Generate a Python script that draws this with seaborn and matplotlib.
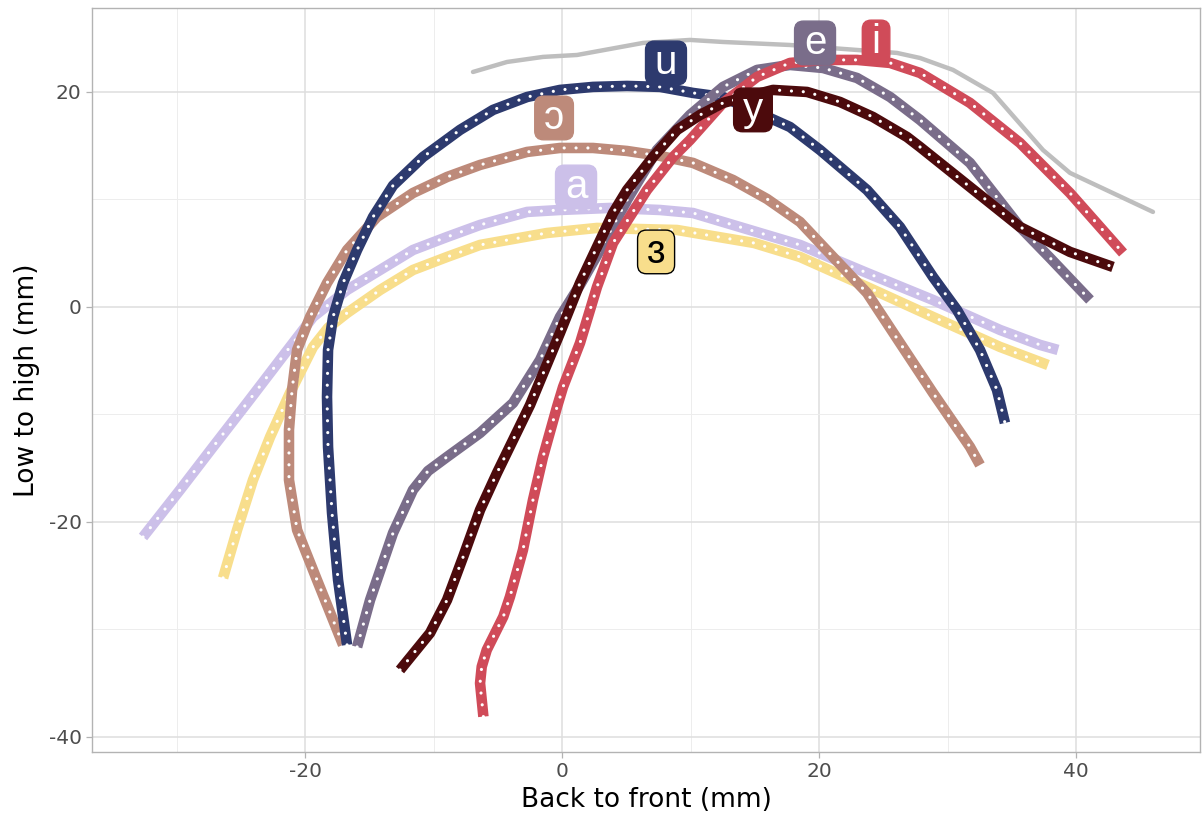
import matplotlib
matplotlib.use("Agg")
import matplotlib.pyplot as plt
from matplotlib.patches import BoxStyle
import numpy as np
import pandas as pd
import seaborn as sns

# ---------------- data (mm) ----------------
palate_x = [-6.93, -4.28, -1.48, 1.17, 6.30, 9.96, 12.53, 17.74, 26.07, 27.86, 30.43, 33.54, 37.43, 39.53, 45.99]
palate_y = [21.86, 22.79, 23.26, 23.44, 24.56, 24.84, 24.65, 24.37, 23.63, 23.16, 22.05, 19.91, 14.60, 12.47, 8.84]

e3_x = [-26.38, -25.29, -24.05, -22.72, -21.17, -19.38, -18.21, -16.73, -14.16, -11.60, -8.95, -6.38, -1.17, 2.72, 8.95, 14.94, 18.52, 23.74, 28.87, 34.09, 37.82]
e3_y = [-25.21, -20.74, -16.09, -12.09, -8.00, -3.72, -1.95, -0.56, 1.58, 3.44, 4.65, 5.77, 6.88, 7.35, 7.16, 5.95, 4.65, 1.86, -0.93, -3.72, -5.40]

a_x = [-32.61, -29.73, -27.16, -24.51, -21.95, -19.38, -16.73, -14.16, -11.60, -8.95, -6.38, -2.72, -0.16, 3.74, 7.63, 10.19, 18.52, 23.74, 28.87, 34.09, 37.20, 38.60]
a_y = [-21.40, -17.02, -13.02, -8.93, -4.93, -0.93, 1.58, 3.44, 5.30, 6.51, 7.63, 8.84, 9.02, 9.21, 9.02, 8.74, 5.77, 3.16, 0.65, -2.14, -3.53, -4.00]

o_x = [-17.04, -19.07, -20.62, -21.25, -21.25, -21.01, -20.62, -19.61, -18.29, -16.73, -14.40, -11.60, -8.95, -6.38, -2.72, -0.16, 2.41, 5.06, 7.63, 10.19, 13.31, 15.95, 18.52, 21.09, 23.74, 26.30, 28.87, 31.75, 32.53]
o_y = [-31.44, -25.40, -20.74, -16.09, -11.44, -7.72, -4.00, -0.93, 2.23, 5.30, 8.37, 10.60, 12.09, 13.21, 14.42, 14.79, 14.79, 14.51, 14.05, 13.40, 11.81, 10.05, 7.91, 4.65, 1.30, -3.35, -8.00, -13.02, -14.70]

u_x = [-16.73, -17.43, -17.90, -18.21, -18.29, -18.21, -17.82, -17.04, -15.95, -14.71, -13.15, -10.82, -7.94, -5.37, -2.72, -0.16, 2.41, 5.06, 7.63, 10.19, 12.53, 17.74, 20.08, 23.74, 26.30, 28.87, 30.74, 32.53, 33.85, 34.47]
u_y = [-31.44, -25.40, -19.16, -13.02, -8.37, -4.00, -0.93, 2.23, 5.30, 8.37, 11.30, 13.95, 16.47, 18.33, 19.53, 20.19, 20.47, 20.56, 20.47, 19.91, 19.53, 16.74, 14.60, 10.88, 7.44, 2.79, -0.28, -4.00, -7.72, -10.79]

e_x = [-15.95, -14.94, -13.15, -11.60, -10.43, -8.95, -6.38, -3.81, -1.71, -0.16, 1.40, 2.96, 5.06, 7.39, 9.96, 12.53, 15.18, 17.74, 20.31, 22.96, 25.53, 27.86, 31.75, 35.64, 37.98, 41.09]
e_y = [-31.63, -27.26, -21.02, -17.02, -15.26, -13.95, -11.72, -8.93, -4.93, -0.93, 2.05, 5.30, 9.95, 14.60, 17.86, 20.47, 22.05, 22.51, 22.23, 21.30, 19.53, 17.40, 13.40, 7.44, 4.56, 0.65]

i_x = [-6.12, -6.38, -6.25, -5.86, -5.21, -4.57, -4.05, -3.04, -2.26, -1.48, -0.39, 0.08, 1.40, 2.72, 3.97, 6.61, 8.64, 9.96, 12.53, 15.18, 17.74, 20.31, 22.96, 25.53, 27.86, 31.75, 35.64, 39.53, 43.66]
i_y = [-38.11, -35.00, -33.46, -31.91, -30.35, -28.81, -26.95, -22.60, -17.95, -13.95, -9.30, -7.44, -3.35, 1.86, 5.95, 10.88, 13.95, 15.53, 18.98, 21.40, 22.70, 22.98, 22.98, 22.70, 21.77, 18.98, 15.26, 10.60, 5.02]

y_x = [-12.61, -10.27, -8.95, -7.70, -6.38, -5.06, -3.81, -2.49, -0.16, 1.40, 2.72, 3.97, 5.06, 7.08, 8.95, 10.74, 12.53, 16.42, 19.07, 21.63, 24.20, 26.85, 27.86, 31.75, 35.64, 39.53, 42.88]
y_y = [-33.77, -30.33, -27.26, -23.26, -18.88, -15.44, -12.37, -9.12, -2.42, 2.23, 5.58, 8.74, 10.88, 13.95, 16.47, 17.86, 18.98, 20.19, 20.00, 19.07, 17.67, 15.81, 14.88, 11.16, 7.44, 5.12, 3.72]

vowels = ["ɜ", "a", "ɔ", "u", "e", "i", "y"]
colors = ["#F8DE8C", "#CCC0E9", "#BD8A7A", "#2D3A6E", "#7A6D8A", "#D04B59", "#4C0A0C"]
text_colors = ["black", "white", "white", "white", "white", "white", "white"]
label_x = [7.32, 1.09, -0.62, 8.09, 19.69, 24.44, 14.86]
label_y = [5.12, 11.16, 17.58, 22.70, 24.56, 24.65, 18.33]

series_x = [e3_x, a_x, o_x, u_x, e_x, i_x, y_x]
series_y = [e3_y, a_y, o_y, u_y, e_y, i_y, y_y]

frames = []
for v, xs, ys in zip(vowels, series_x, series_y):
    frames.append(pd.DataFrame({"x": xs, "y": ys, "vowel": v}))
df = pd.concat(frames, ignore_index=True)
pal_df = pd.DataFrame({"x": palate_x, "y": palate_y})

# ---------------- style ----------------
sns.set_theme(style="white")
plt.rcParams["font.family"] = ["DejaVu Sans"]
plt.rcParams["axes.unicode_minus"] = False

fig = plt.figure(figsize=(12.03, 8.18), dpi=100)
ax = fig.add_axes([92 / 1203, 66 / 818, 1108 / 1203, 744 / 818])

ax.set_xlim(-36.58, 49.65)
ax.set_ylim(-41.40, 27.81)
ax.set_xticks([-20, 0, 20, 40])
ax.set_xticks([-30, -10, 10, 30], minor=True)
ax.set_yticks([-40, -20, 0, 20])
ax.set_yticks([-30, -10, 10], minor=True)
ax.grid(which="major", color="#DEDEDE", lw=1.1, zorder=0)
ax.grid(which="minor", color="#EDEDED", lw=0.7, zorder=0)
ax.set_axisbelow(True)
for s in ax.spines.values():
    s.set_color("#B3B3B3")
    s.set_linewidth(1.0)
ax.tick_params(which="major", length=4.5, width=0.9, color="#B3B3B3",
               labelsize=14.5, labelcolor="#4D4D4D", pad=3, bottom=True, left=True)
ax.tick_params(which="minor", length=0)

# palate trace
sns.lineplot(data=pal_df, x="x", y="y", sort=False, estimator=None, color="#BEBEBE",
             lw=3.2, ax=ax, zorder=2)

# tongue contours: thick coloured line with dotted white overlay
for k, (v, c) in enumerate(zip(vowels, colors)):
    sub = df[df["vowel"] == v]
    sns.lineplot(data=sub, x="x", y="y", sort=False, estimator=None, color=c,
                 lw=7.6, ax=ax, zorder=3 + 2 * k)
    ln = ax.lines[-1]
    ln.set_solid_capstyle("butt")
    ln.set_solid_joinstyle("round")
    sns.lineplot(data=sub, x="x", y="y", sort=False, estimator=None, color="white",
                 lw=2.3, ax=ax, zorder=4 + 2 * k)
    dl = ax.lines[-1]
    dl.set_linestyle((0, (0.01, 3.7)))
    dl.set_dash_capstyle("round")


def label_box(x0, y0, width, height, mutation_size):
    px = 0.23 * mutation_size
    py = 0.07 * mutation_size
    return BoxStyle.Round(pad=0, rounding_size=0.22)(x0 - px, y0 - py, width + 2 * px,
                                                      height + 2 * py, mutation_size)


for v, c, tc, lx, ly in zip(vowels, colors, text_colors, label_x, label_y):
    ec = "black" if tc == "black" else c
    ax.text(lx, ly, v, ha="center", va="center", fontsize=29, color=tc,
            family=["Liberation Sans", "DejaVu Sans"], zorder=30,
            bbox=dict(boxstyle=label_box, fc=c, ec=ec, lw=1.0))

ax.set_xlabel("Back to front (mm)", fontsize=19, color="black", labelpad=4)
ax.set_ylabel("Low to high (mm)", fontsize=19, color="black", labelpad=6)

fig.savefig("out.png", dpi=100)
